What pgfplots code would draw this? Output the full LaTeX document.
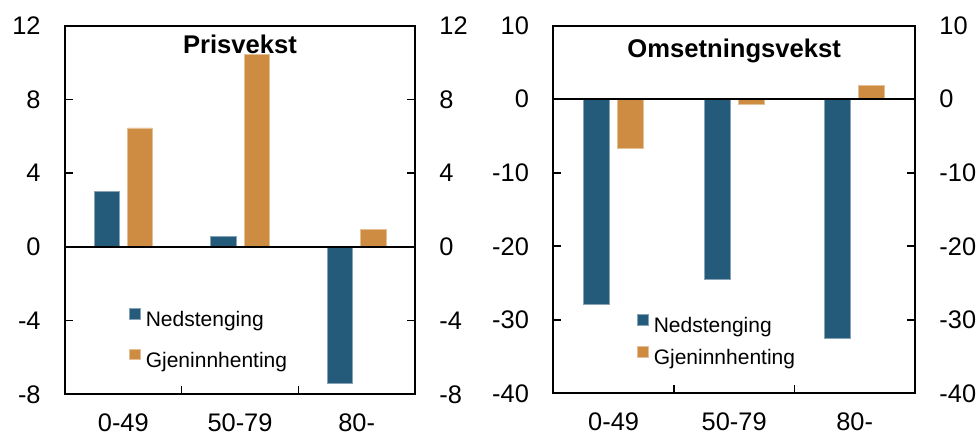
\documentclass[border=0pt]{standalone}
\usepackage{pgfplots}
\pgfplotsset{compat=1.18}
\usepackage{fontspec}
\setmainfont{Liberation Sans}
\definecolor{cblue}{HTML}{245A7A}
\definecolor{corange}{HTML}{CE8C42}
\newcommand{\tickfont}{\fontsize{12.7}{14}\selectfont}
\pgfplotsset{
  common/.style={
    anchor=south west, scale only axis, xmin=-0.5, xmax=2.5, ybar,
    tick align=inside, major tick length=4pt,
    axis line style={line width=0.9pt},
    every tick/.style={black, line width=0.8pt},
    xtick={0.5,1.5}, xticklabels={}, xtick pos=left,
    extra x ticks={0,1,2}, extra x tick labels={0-49,50-79,80-},
    extra x tick style={major tick length=0pt},
    xticklabel style={font=\tickfont, anchor=north, inner sep=0pt, yshift=-9.4pt},
    yticklabel style={font=\tickfont, anchor=east, inner sep=0pt, xshift=-12pt},
    ytick pos=both,
    clip=false,
    legend image code/.code={\fill[##1] (0pt,0.9pt) rectangle (5.35pt,6.25pt);},
    legend cell align=left,
    legend style={draw=none, fill=none, inner sep=0pt, outer sep=0pt, anchor=north west,
      column sep=2.65pt, nodes={inner sep=0pt}, font=\fontsize{10.5}{12}\selectfont},
    every axis title shift=0pt,
    title style={font=\bfseries\fontsize{12.8}{14}\selectfont, at={(0.5,1)}, anchor=north, inner sep=0pt},
  },
  rlabels/.style={
    anchor=south west, scale only axis, xmin=-0.5, xmax=2.5,
    axis x line=none, axis y line*=right, y axis line style={draw=none},
    major tick length=0pt,
    yticklabel style={font=\tickfont, anchor=west, inner sep=0pt, xshift=12pt},
  },
  nedbar/.style={fill=cblue, draw=cblue!55!white, line width=0.4pt},
  gjenbar/.style={fill=corange, draw=corange!55!white, line width=0.4pt},
}
\begin{document}
\begin{tikzpicture}[x=1pt,y=1pt]
\useasboundingbox (0,0) rectangle (489,217);
\clip (0,0) rectangle (489,217);
% Left panel: Prisvekst
\begin{axis}[common, at={(32.5pt,19.85pt)}, width=175pt, height=184.3pt,
  ymin=-8, ymax=12, ytick={-8,-4,0,4,8,12}, yticklabels={-8,-4,0,4,8,12},
  bar width=12.6pt, title={Prisvekst}, title style={yshift=-4.65pt},
  legend style={at={(0.1829,0.2344)}, row sep=9.3pt}]
\addplot[nedbar, bar shift=-8.35pt] coordinates {(0,3.0) (1,0.55) (2,-7.39)};
\addplot[gjenbar, bar shift=8.35pt] coordinates {(0,6.45) (1,10.42) (2,0.95)};
\legend{Nedstenging,Gjeninnhenting}
\draw[line width=0.9pt] (axis cs:-0.5,0) -- (axis cs:2.5,0);
\end{axis}
\begin{axis}[rlabels, at={(32.5pt,19.85pt)}, width=175pt, height=184.3pt,
  ymin=-8, ymax=12, ytick={-8,-4,0,4,8,12}, yticklabels={-8,-4,0,4,8,12}]
\end{axis}
% Right panel: Omsetningsvekst
\begin{axis}[common, at={(276.65pt,20.35pt)}, width=180.85pt, height=183.8pt,
  ymin=-40, ymax=10, ytick={-40,-30,-20,-10,0,10}, yticklabels={-40,-30,-20,-10,0,10},
  bar width=13.1pt, title={Omsetningsvekst}, title style={yshift=-6.3pt},
  legend style={at={(0.2314,0.216)}, row sep=4.95pt}]
\addplot[nedbar, bar shift=-8.5pt] coordinates {(0,-27.85) (1,-24.45) (2,-32.6)};
\addplot[gjenbar, bar shift=8.5pt] coordinates {(0,-6.75) (1,-0.65) (2,1.85)};
\legend{Nedstenging,Gjeninnhenting}
\draw[line width=0.9pt] (axis cs:-0.5,0) -- (axis cs:2.5,0);
\end{axis}
\begin{axis}[rlabels, at={(276.65pt,20.35pt)}, width=180.85pt, height=183.8pt,
  ymin=-40, ymax=10, ytick={-40,-30,-20,-10,0,10}, yticklabels={-40,-30,-20,-10,0,10}]
\end{axis}
\end{tikzpicture}
\end{document}
